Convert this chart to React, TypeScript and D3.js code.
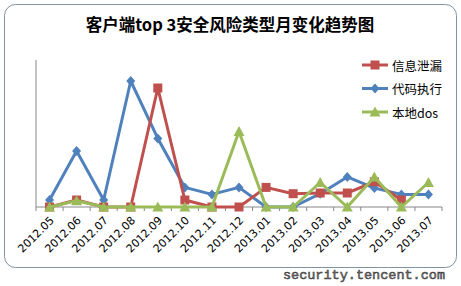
import React from "react";
import * as d3 from "d3";

const months = ["2012.05","2012.06","2012.07","2012.08","2012.09","2012.10","2012.11","2012.12","2013.01","2013.02","2013.03","2013.04","2013.05","2013.06","2013.07"];
const infoLeak: (number | null)[] = [0, 1, 0, 0, 17, 1, 0, 0, 2.8, 1.9, 2, 2, 3.6, 1, null];
const codeExec: (number | null)[] = [1, 8, 1, 18, 9.8, 2.8, 1.8, 2.8, 0, 0, 1.9, 4.3, 2.7, 1.8, 1.8];
const localDos: (number | null)[] = [0, 0.9, 0, 0, 0, 0, 0, 10.8, 0, 0, 3.5, 0, 4.3, 0, 3.5];
const seriesNames = ["信息泄漏", "代码执行", "本地dos"];
const title = "客户端top 3安全风险类型月变化趋势图";
const watermark = "security.tencent.com";

const W = 461, H = 286;
const colors = ["#C0504D", "#4F81BD", "#9BBB59"];

export default function App() {
  const x0 = 36, x1 = 442, yTop = 60, yBot = 207;
  const x = d3.scaleBand<string>().domain(months).range([x0, x1]);
  const y = d3.scaleLinear().domain([0, 21]).range([yBot, yTop]);
  const cx = (m: string) => (x(m) as number) + x.bandwidth() / 2;
  const data = [infoLeak, codeExec, localDos];
  const line = d3.line<[string, number | null]>()
    .defined(d => d[1] !== null)
    .x(d => cx(d[0]))
    .y(d => y(d[1] as number));

  const marker = (i: number, px: number, py: number, key: string) => {
    const c = colors[i];
    if (i === 0) return <rect key={key} x={px - 4.5} y={py - 4.5} width={9} height={9} fill={c} />;
    if (i === 1) return <path key={key} d={`M${px},${py - 5}L${px + 4.5},${py}L${px},${py + 5}L${px - 4.5},${py}Z`} fill={c} />;
    return <path key={key} d={`M${px},${py - 5.5}L${px + 5.5},${py + 4.5}L${px - 5.5},${py + 4.5}Z`} fill={c} />;
  };

  const tickXs = d3.range(months.length + 1).map(i => x0 + i * x.step());
  const order = [1, 0, 2];

  return (
    <svg width={W} height={H} style={{ position: "fixed", left: 0, top: 0, background: "#fff" }}>
      <rect x={0} y={0} width={W} height={H} fill="#fff" />
      <rect x={4.5} y={4.5} width={452} height={263} rx={11} fill="#fff" stroke="#7f93a3" strokeWidth={1} />
      <text x={230} y={31} textAnchor="middle" fontFamily="'Noto Sans CJK SC'" fontWeight="bold" fontSize={16.5} fill="#000">{title}</text>
      <line x1={x0} y1={yTop} x2={x0} y2={yBot} stroke="#878787" />
      <line x1={x0} y1={yBot} x2={x1} y2={yBot} stroke="#878787" />
      {tickXs.map((t, i) => <line key={i} x1={t} x2={t} y1={yBot} y2={yBot + 4} stroke="#878787" />)}
      {order.map(i => (
        <g key={i}>
          <path d={line(months.map((m, j) => [m, data[i][j]]) as any) || ""} fill="none" stroke={colors[i]} strokeWidth={3} strokeLinejoin="round" />
          {months.map((m, j) => data[i][j] === null ? null : marker(i, cx(m), y(data[i][j] as number), `${i}-${j}`))}
        </g>
      ))}
      {months.map(m => (
        <text key={m} transform={`translate(${cx(m) + 3},${yBot + 12}) rotate(-45)`} textAnchor="end" dominantBaseline="middle" fontFamily="'DejaVu Sans'" fontSize={11} fill="#000">{m}</text>
      ))}
      {seriesNames.map((n, i) => {
        const ly = 65 + i * 23.5;
        return (
          <g key={n}>
            <line x1={362} x2={388} y1={ly} y2={ly} stroke={colors[i]} strokeWidth={3} />
            {marker(i, 375, ly, "l" + i)}
            <text x={392} y={ly} dominantBaseline="central" fontFamily="'Noto Sans CJK SC'" fontSize={12.5} fill="#000">{n}</text>
          </g>
        );
      })}
      <text x={445} y={278.5} textAnchor="end" fontFamily="'Liberation Mono'" fontSize={13.5} fill="#777" stroke="#333" strokeWidth={0.5}>{watermark}</text>
    </svg>
  );
}
